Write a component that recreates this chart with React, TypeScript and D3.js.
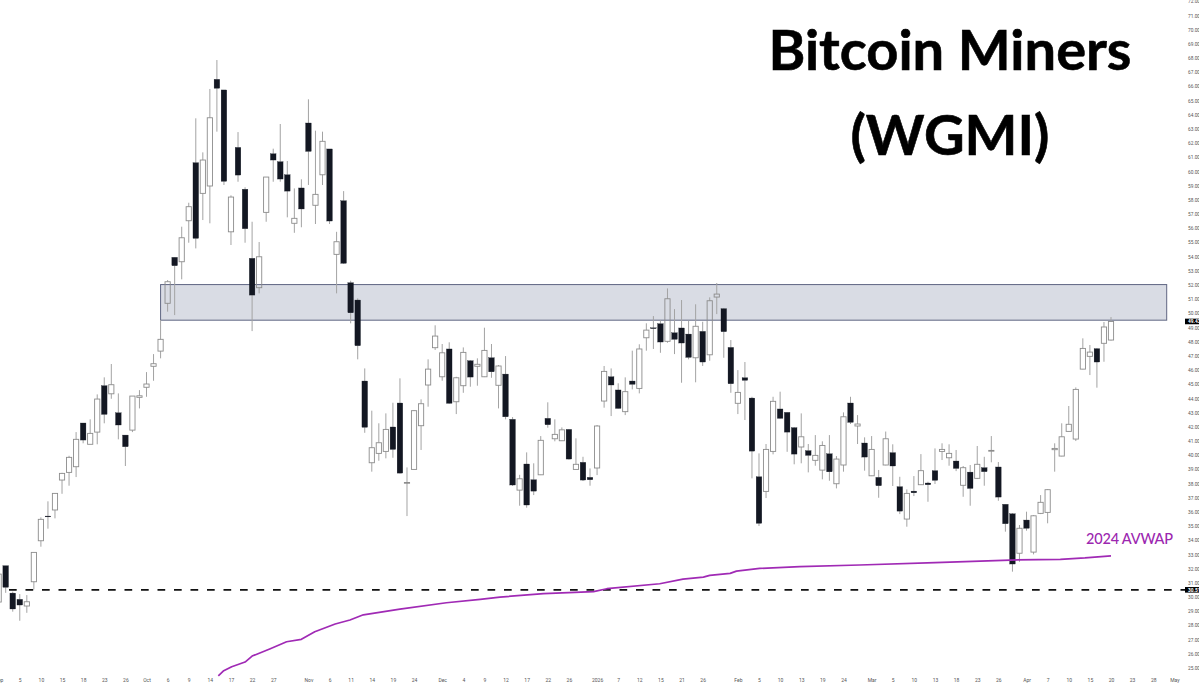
import { useEffect, useRef } from "react";
import * as d3 from "d3";

const firstBar = -1;

const opens = [
  29.65, 32.21, 30.28, 29.84, 29.37, 31.08, 33.97, 35.71, 36.14, 38.25,
  38.79, 39.19, 42.27, 40.77, 41.63, 44.90, 44.33, 42.99, 41.42, 41.77,
  44.08, 44.79, 46.27, 47.34, 50.71, 53.95, 53.64, 56.53, 60.62, 58.46,
  58.98, 66.50, 65.75, 55.75, 61.70, 58.75, 53.88, 51.81, 57.12, 61.25,
  60.69, 59.77, 56.35, 58.84, 63.42, 57.62, 59.77, 61.59, 54.16, 57.94,
  52.16, 50.94, 45.23, 39.47, 40.13, 40.27, 41.99, 43.68, 38.04, 39.00,
  42.08, 44.95, 47.58, 45.53, 47.49, 43.77, 44.90, 46.66, 46.27, 45.53,
  46.87, 44.93, 45.72, 42.53, 37.54, 39.38, 38.27, 38.62, 42.60, 41.16,
  41.02, 41.82, 39.00, 39.50, 38.44, 39.10, 43.82, 45.53, 44.60, 43.07,
  45.23, 44.71, 48.28, 48.98, 49.27, 48.03, 48.63, 48.97, 48.54, 46.87,
  48.73, 47.08, 51.15, 50.33, 47.60, 43.66, 45.46, 44.03, 38.48, 37.45,
  40.27, 43.26, 43.02, 41.94, 40.58, 40.32, 39.64, 38.95, 40.10, 37.99,
  39.31, 43.68, 42.06, 40.86, 38.55, 38.44, 39.31, 40.18, 37.78, 35.50,
  37.47, 37.92, 38.04, 38.91, 40.27, 39.82, 39.59, 37.88, 38.81, 38.37,
  39.12, 40.29, 39.17, 36.54, 35.87, 33.09, 35.43, 33.17, 35.90, 35.97,
  40.39, 39.94, 41.68, 41.14, 46.07, 46.97, 47.51, 47.89, 48.12,
];

const highs = [
  31.76, 32.21, 30.38, 30.21, 30.14, 33.17, 35.62, 36.75, 37.33, 38.76,
  39.96, 41.63, 42.27, 42.53, 44.29, 45.49, 46.43, 44.36, 41.42, 44.17,
  44.59, 45.86, 47.13, 49.53, 52.35, 53.97, 56.11, 57.80, 63.75, 61.35,
  65.82, 67.86, 65.75, 58.32, 62.78, 58.89, 56.46, 55.03, 59.61, 61.61,
  63.35, 60.74, 58.81, 59.45, 65.09, 62.88, 62.81, 61.59, 55.75, 58.62,
  52.30, 51.06, 46.12, 43.14, 42.25, 42.95, 43.70, 45.42, 39.14, 43.19,
  43.94, 46.76, 49.16, 47.84, 47.96, 45.53, 47.60, 46.71, 46.83, 48.99,
  47.84, 46.36, 46.99, 42.69, 38.62, 40.20, 39.43, 41.35, 43.73, 42.53,
  41.96, 41.85, 41.19, 39.89, 39.07, 42.13, 46.29, 46.12, 45.07, 45.49,
  47.37, 47.82, 49.30, 49.81, 49.53, 51.76, 50.30, 50.94, 49.48, 50.64,
  49.41, 51.13, 52.14, 50.38, 48.12, 46.00, 46.57, 44.12, 40.13, 40.79,
  44.12, 44.48, 43.04, 41.99, 42.95, 40.79, 41.42, 40.98, 41.42, 39.94,
  43.02, 44.12, 42.83, 41.26, 41.35, 38.96, 41.67, 40.77, 38.48, 37.59,
  38.53, 40.08, 38.13, 40.48, 40.84, 40.77, 40.37, 39.24, 39.31, 40.65,
  39.89, 41.35, 39.52, 36.56, 35.92, 35.08, 36.02, 35.78, 37.19, 37.61,
  40.84, 42.25, 43.47, 44.78, 48.24, 47.77, 47.56, 49.39, 49.74,
];

const lows = [
  29.44, 30.30, 28.97, 28.33, 28.89, 30.54, 33.55, 34.82, 35.55, 37.28,
  37.85, 38.46, 40.84, 40.77, 40.77, 42.25, 43.98, 41.12, 39.24, 41.63,
  43.30, 44.12, 45.25, 46.83, 50.12, 49.88, 52.40, 54.98, 54.58, 56.58,
  56.35, 62.81, 59.05, 54.82, 59.28, 54.98, 48.75, 51.41, 56.46, 59.28,
  59.28, 56.77, 55.68, 56.07, 59.05, 56.30, 59.05, 56.30, 51.41, 53.48,
  49.30, 46.76, 41.58, 38.84, 39.61, 39.78, 39.82, 38.71, 35.71, 38.99,
  40.37, 43.42, 47.42, 45.25, 43.62, 42.90, 44.40, 44.83, 44.90, 45.51,
  45.46, 43.30, 42.53, 37.83, 36.44, 36.30, 37.19, 38.60, 41.94, 40.98,
  41.00, 39.69, 38.99, 38.18, 37.85, 38.60, 43.35, 42.76, 43.27, 42.83,
  44.64, 44.36, 47.37, 47.49, 47.22, 47.93, 47.13, 45.11, 46.76, 45.14,
  46.29, 46.66, 49.95, 46.87, 44.40, 42.90, 42.48, 38.37, 35.01, 36.98,
  40.06, 42.57, 40.24, 39.36, 39.43, 38.79, 39.26, 38.30, 38.20, 37.66,
  38.84, 42.20, 40.79, 38.91, 38.53, 37.00, 39.29, 37.83, 35.85, 34.96,
  37.12, 37.90, 36.72, 37.97, 39.66, 39.26, 38.88, 37.07, 36.44, 38.32,
  37.85, 39.50, 36.79, 34.61, 31.79, 32.49, 34.68, 33.01, 35.85, 35.20,
  38.84, 39.92, 41.66, 41.00, 46.05, 45.65, 44.76, 46.59, 48.08,
];

const closes = [
  31.62, 30.69, 29.16, 29.44, 29.67, 33.15, 35.48, 35.67, 37.31, 38.72,
  39.85, 41.12, 41.07, 41.54, 43.96, 42.88, 44.97, 42.13, 40.60, 44.17,
  44.19, 45.02, 46.45, 48.17, 52.23, 53.36, 55.33, 57.52, 55.29, 60.81,
  63.79, 65.87, 59.31, 58.20, 59.75, 55.97, 51.29, 53.99, 59.61, 60.81,
  59.47, 58.62, 56.70, 57.36, 61.42, 58.39, 62.13, 56.51, 55.05, 53.53,
  50.04, 47.72, 41.97, 40.53, 40.88, 41.82, 40.41, 38.74, 38.08, 43.14,
  43.63, 46.07, 48.40, 47.22, 43.66, 45.46, 47.25, 45.51, 46.41, 47.39,
  45.88, 46.29, 42.71, 37.90, 38.34, 36.49, 37.47, 41.05, 42.15, 41.47,
  41.79, 39.73, 39.36, 38.25, 38.27, 42.06, 45.91, 44.95, 43.30, 44.48,
  45.00, 47.49, 48.82, 48.94, 47.98, 51.03, 48.17, 47.91, 46.90, 49.09,
  46.57, 50.89, 51.36, 48.71, 45.04, 44.43, 45.28, 40.29, 35.20, 40.41,
  43.80, 42.60, 41.63, 40.08, 41.30, 39.99, 39.99, 40.69, 38.83, 39.73,
  42.71, 42.32, 42.20, 39.87, 40.41, 37.85, 41.16, 39.24, 36.06, 37.31,
  37.35, 38.91, 37.92, 38.23, 40.41, 40.13, 39.07, 39.12, 37.66, 39.36,
  38.84, 40.34, 37.05, 35.17, 32.33, 34.85, 34.85, 35.73, 36.68, 37.57,
  40.48, 41.30, 42.18, 44.64, 47.53, 47.27, 46.57, 49.04, 49.43,
];

const avwapBars = [
  30.2, 30.9, 32.1, 34, 35, 37.5, 39.9, 42, 43.9, 46.8, 48.9, 50.8, 56, 62.6, 67.4, 70.2, 76.4,
  83.5, 85.4, 92.9, 96.2, 99.1, 100, 102.9, 103.8, 107.1, 112.8, 121.3, 132, 142.7, 149.8, 153.3, 157,
];
const avwapValues = [
  24.45, 24.78, 25.09, 25.42, 25.84, 26.34, 26.85, 27.02, 27.55, 28.10, 28.38, 28.75, 29.15, 29.60, 29.84, 30.0, 30.24,
  30.38, 30.59, 30.94, 31.27, 31.41, 31.53, 31.67, 31.83, 32.02, 32.14, 32.26, 32.43, 32.61, 32.66, 32.76, 32.91,
];

const tickBars = [
  -1, 2, 5, 8, 11, 14, 17, 20, 23, 26, 29, 32, 35, 38, 43, 46, 49, 52, 55, 58, 62, 65, 68, 71, 74, 77, 80,
  84, 87, 90, 93, 96, 99, 104, 107, 110, 113, 116, 119, 123, 126, 129, 132, 135, 138, 141, 145, 148, 151,
  154, 157, 160, 163, 166,
];
const tickLabels = [
  "Sep", "5", "10", "15", "18", "23", "26", "Oct", "6", "9", "14", "17", "22", "27", "Nov", "6", "11", "14", "19", "24",
  "Dec", "4", "9", "12", "17", "22", "26", "2026", "7", "12", "15", "21", "26", "Feb", "5", "10", "13", "19", "24",
  "Mar", "5", "10", "13", "18", "23", "26", "Apr", "7", "10", "15", "20", "23", "28", "May",
];

const priceTicks = d3.range(25, 73);
const zoneTop = 52.03;
const zoneBottom = 49.52;
const supportLevel = 30.51;
const lastPrice = 49.43;

const width = 1199;
const height = 685;

export default function App() {
  const svgRef = useRef<SVGSVGElement | null>(null);

  useEffect(() => {
    if (!svgRef.current) return;
    const svg = d3.select(svgRef.current);
    svg.selectAll("*").remove();

    const x = d3.scaleLinear().domain([0, 157]).range([5.7, 1111]);
    const y = d3.scaleLinear().domain([25, 72]).range([668, 1.3]);

    // Resistance zone
    svg
      .append("rect")
      .attr("x", x(22))
      .attr("y", y(zoneTop))
      .attr("width", 1166.7 - x(22))
      .attr("height", y(zoneBottom) - y(zoneTop))
      .attr("fill", "#d9dce4")
      .attr("stroke", "#5f6682")
      .attr("stroke-width", 1);

    const bars = opens.map((o, i) => ({
      bar: firstBar + i,
      o,
      h: highs[i],
      l: lows[i],
      c: closes[i],
      up: closes[i] >= o,
    }));

    const candle = svg
      .append("g")
      .selectAll("g")
      .data(bars)
      .join("g")
      .attr("transform", (d) => `translate(${x(d.bar)},0)`);

    candle
      .append("line")
      .attr("y1", (d) => y(d.h))
      .attr("y2", (d) => y(Math.max(d.o, d.c)))
      .attr("stroke", "#a3a3a3")
      .attr("stroke-width", 1);

    candle
      .append("line")
      .attr("y1", (d) => y(Math.min(d.o, d.c)))
      .attr("y2", (d) => y(d.l))
      .attr("stroke", "#a3a3a3")
      .attr("stroke-width", 1);

    candle
      .append("rect")
      .attr("x", (d) => (d.up ? -2.6 : -2.8))
      .attr("width", (d) => (d.up ? 5.2 : 5.6))
      .attr("y", (d) => y(Math.max(d.o, d.c)))
      .attr("height", (d) => Math.max(y(Math.min(d.o, d.c)) - y(Math.max(d.o, d.c)), 0.8))
      .attr("fill", (d) => (d.up ? "none" : "#131722"))
      .attr("stroke", (d) => (d.up ? "#8c8c8c" : "#131722"))
      .attr("stroke-width", (d) => (d.up ? 0.9 : 0.3));

    // Support line
    svg
      .append("line")
      .attr("x1", 9)
      .attr("x2", 1185)
      .attr("y1", y(supportLevel))
      .attr("y2", y(supportLevel))
      .attr("stroke", "#111111")
      .attr("stroke-width", 1.6)
      .attr("stroke-dasharray", "7.7 8.8");

    // AVWAP
    const avwapLine = d3
      .line<number>()
      .x((d) => x(d))
      .y((_, i) => y(avwapValues[i]));

    svg
      .append("path")
      .attr("d", avwapLine(avwapBars))
      .attr("fill", "none")
      .attr("stroke", "#a02ab5")
      .attr("stroke-width", 1.7)
      .attr("stroke-linejoin", "round");

    svg
      .append("text")
      .attr("x", 1086)
      .attr("y", 544)
      .attr("font-family", "Lato")
      .attr("font-size", 14.5)
      .attr("font-weight", 500)
      .attr("letter-spacing", -0.2)
      .attr("fill", "#9c27b0")
      .text("2024 AVWAP");

    // Axes
    const yAxis = svg
      .append("g")
      .attr("transform", "translate(1188,0)")
      .call(d3.axisRight(y).tickValues(priceTicks).tickSize(0).tickPadding(0).tickFormat(d3.format(".2f") as any));
    yAxis.select(".domain").remove();
    yAxis.selectAll("text").attr("font-family", "Roboto").attr("font-size", 4.8).attr("fill", "#555555");

    const xAxis = svg
      .append("g")
      .attr("transform", "translate(0,678.2)")
      .call(
        d3
          .axisBottom(x)
          .tickValues(tickBars)
          .tickSize(0)
          .tickPadding(0)
          .tickFormat((_, i) => tickLabels[i])
      );
    xAxis.select(".domain").remove();
    xAxis.selectAll("text").attr("font-family", "Roboto").attr("font-size", 5).attr("fill", "#555555");

    // Price labels
    [lastPrice, supportLevel].forEach((p) => {
      svg
        .append("rect")
        .attr("x", 1185)
        .attr("y", y(p) - 2.8)
        .attr("width", 14)
        .attr("height", 5.6)
        .attr("fill", "#000000");
      svg
        .append("text")
        .attr("x", 1188)
        .attr("y", y(p))
        .attr("dy", "0.35em")
        .attr("font-family", "Roboto")
        .attr("font-size", 4.8)
        .attr("font-weight", 700)
        .attr("fill", "#ffffff")
        .text(p.toFixed(2));
    });

    // Title
    ["Bitcoin Miners", "(WGMI)"].forEach((t, i) => {
      svg
        .append("text")
        .attr("x", 950)
        .attr("y", 70 + i * 85)
        .attr("text-anchor", "middle")
        .attr("font-family", "Lato")
        .attr("font-size", 56)
        .attr("font-weight", 700)
        .attr("stroke", "#000000")
        .attr("stroke-width", 0.6)
        .attr("fill", "#000000")
        .text(t);
    });
  }, []);

  return (
    <svg
      ref={svgRef}
      width={width}
      height={height}
      viewBox={`0 0 ${width} ${height}`}
      style={{ position: "absolute", left: 0, top: 0, background: "#ffffff" }}
    ></svg>
  );
}
